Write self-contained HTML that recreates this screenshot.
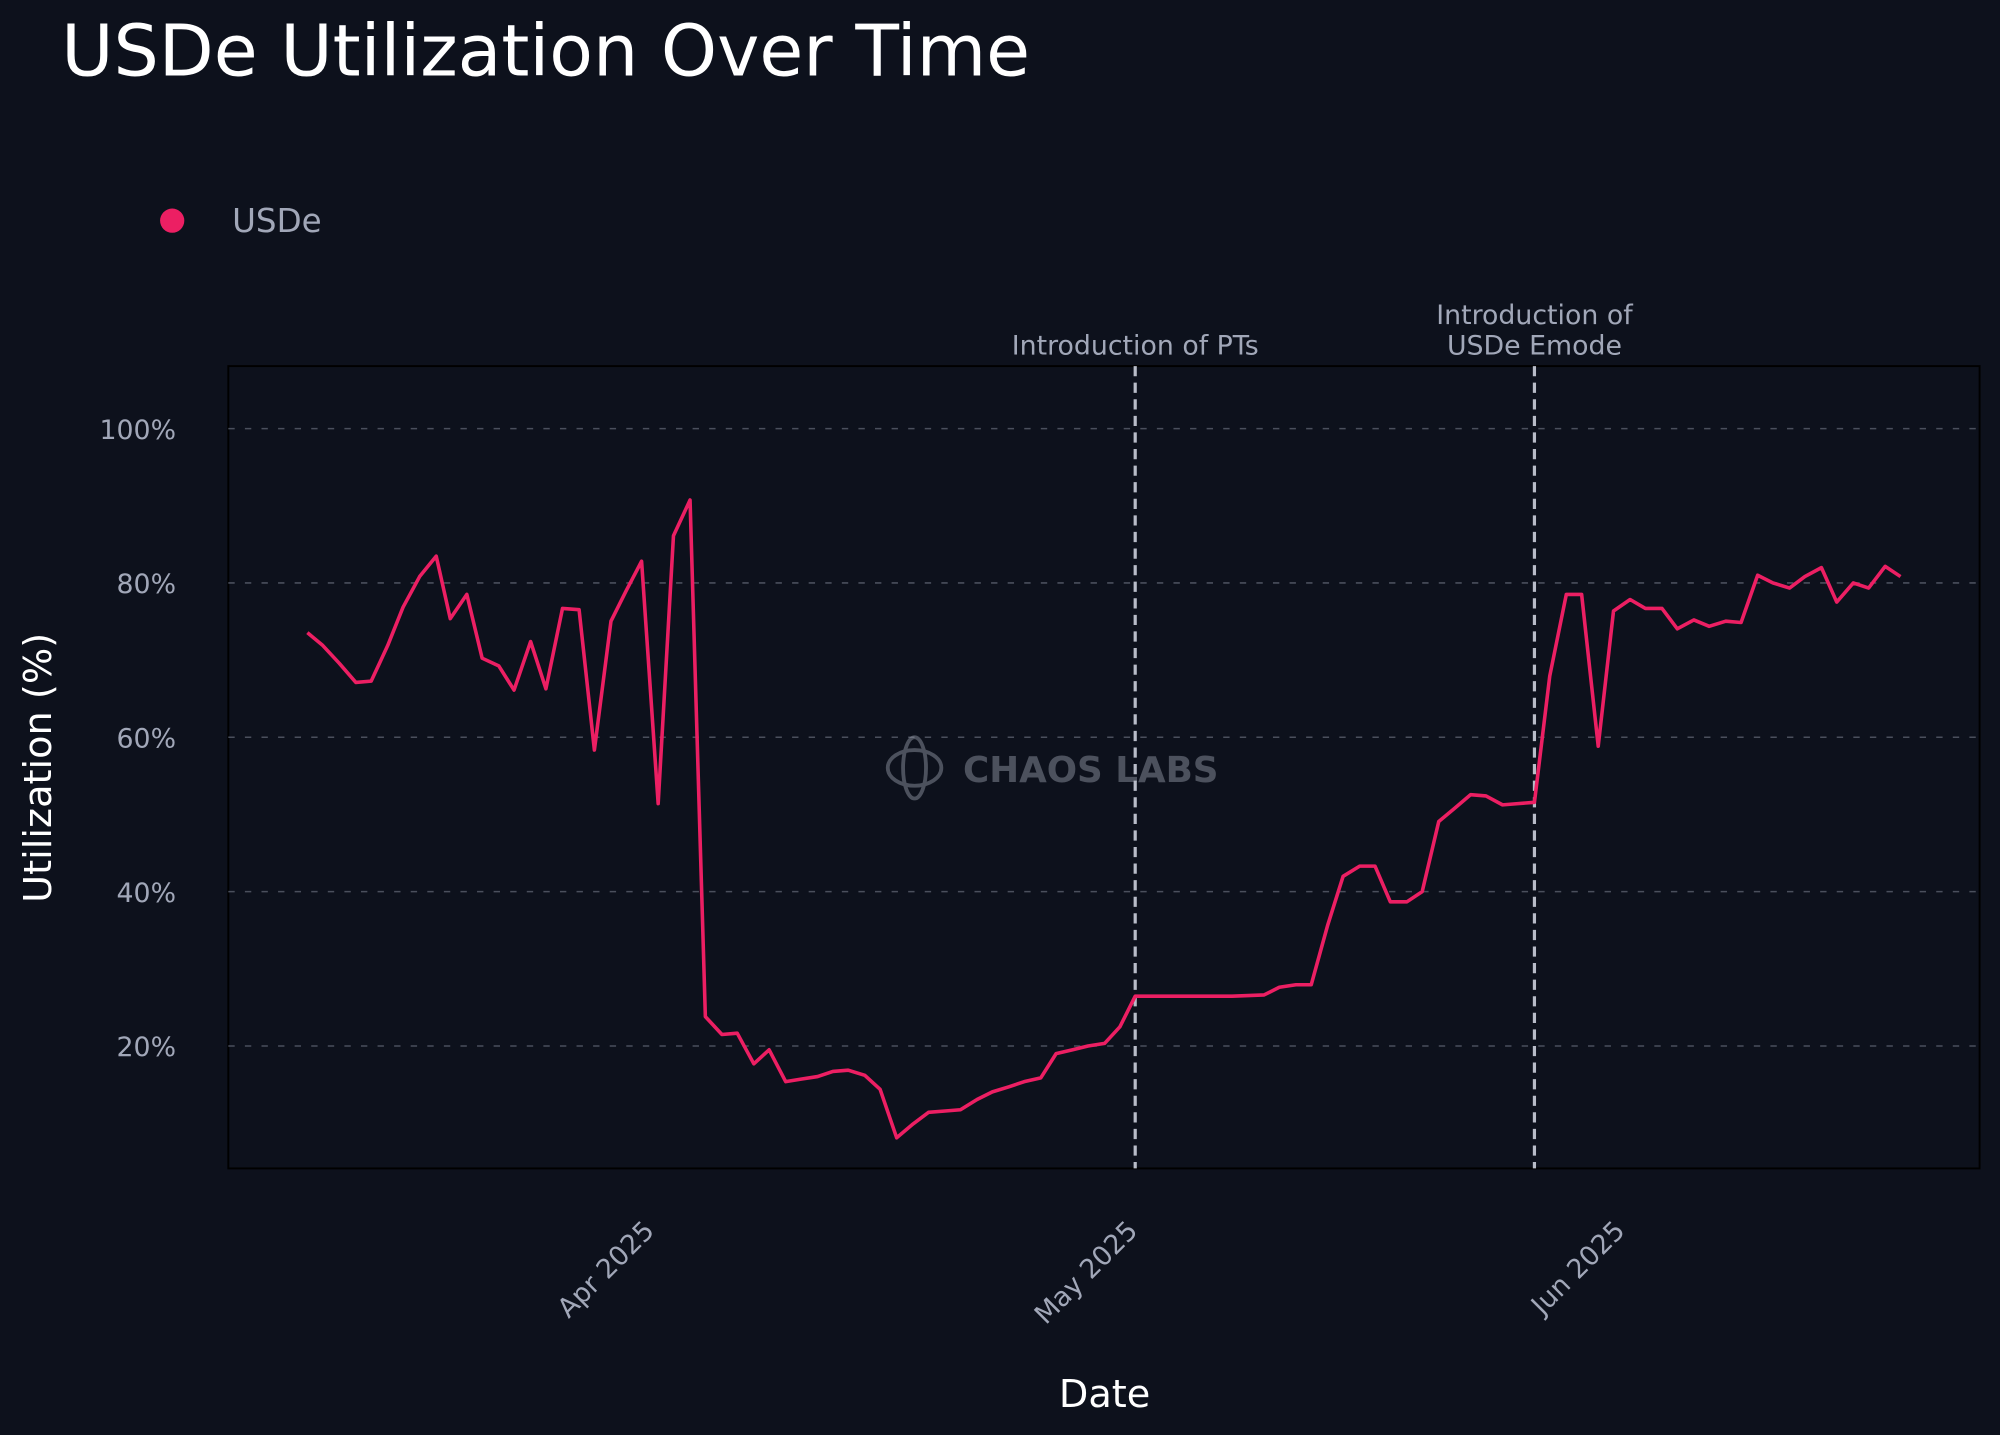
<!DOCTYPE html>
<html><head><meta charset="utf-8"><style>
html,body{margin:0;padding:0;background:#0d111c;}
svg{display:block;font-family:"DejaVu Sans","Liberation Sans",sans-serif;}
</style></head><body>
<svg width="2000" height="1435" viewBox="0 0 1568 1125" preserveAspectRatio="none">
<rect width="1568" height="1125" fill="#0d111c"/>
<text x="48" y="59" font-size="56" fill="#ffffff">USDe Utilization Over Time</text>
<circle cx="135" cy="173" r="9.5" fill="#ec1f63"/>
<text x="182" y="182" font-size="25.5" fill="#a1a7b8">USDe</text>
<rect x="179" y="287" width="1373" height="629" fill="#0d111c" stroke="#000" stroke-width="1.5"/>
<g stroke="#4a4f5c" stroke-width="1.2" stroke-dasharray="5,8">
<line x1="179" y1="336" x2="1552" y2="336"/>
<line x1="179" y1="457" x2="1552" y2="457"/>
<line x1="179" y1="578" x2="1552" y2="578"/>
<line x1="179" y1="699" x2="1552" y2="699"/>
<line x1="179" y1="820" x2="1552" y2="820"/>
</g>
<g font-size="21" fill="#a1a7b8" text-anchor="end">
<text x="138" y="344">100%</text>
<text x="138" y="465">80%</text>
<text x="138" y="586">60%</text>
<text x="138" y="707">40%</text>
<text x="138" y="828">20%</text>
</g>
<text transform="translate(40,602) rotate(-90)" font-size="30" fill="#ffffff" text-anchor="middle">Utilization (%)</text>
<text x="866" y="1103" font-size="30" fill="#ffffff" text-anchor="middle">Date</text>
<g font-size="21" fill="#a1a7b8" text-anchor="end">
<text transform="translate(514,966) rotate(-45)">Apr 2025</text>
<text transform="translate(893,966) rotate(-45)">May 2025</text>
<text transform="translate(1275,966) rotate(-45)">Jun 2025</text>
</g>
<g opacity="0.45" fill="none" stroke="#9aa0ad" stroke-width="3">
<ellipse cx="717" cy="602" rx="21" ry="14"/>
<ellipse cx="717" cy="602" rx="9" ry="24"/>
</g>
<text x="755" y="613" font-size="28" font-weight="bold" fill="#9aa0ad" opacity="0.45">CHAOS LABS</text>
<g stroke="#b8bcc8" stroke-width="2.5" stroke-dasharray="8,5">
<line x1="890" y1="287" x2="890" y2="916"/>
<line x1="1203" y1="287" x2="1203" y2="916"/>
</g>
<g font-size="21" fill="#a1a7b8" text-anchor="middle">
<text x="890" y="278">Introduction of PTs</text>
<text x="1203" y="254">Introduction of</text>
<text x="1203" y="278">USDe Emode</text>
</g>
<polyline fill="none" stroke="#ec1f63" stroke-width="2.8" stroke-linejoin="round" points="241,496 253,506 266,520 279,535 291,534 304,506 316,476 329,452 342,436 353,485 366,466 378,516 391,522 403,541 416,503 428,540 441,477 454,478 466,588 479,487 491,463 503,440 516,630 528,420 541,392 553,797 566,811 578,810 591,834 603,823 616,848 628,846 641,844 653,840 665,839 678,843 690,854 703,892 716,881 728,872 741,871 753,870 766,862 778,856 791,852 803,848 816,845 828,826 841,823 853,820 866,818 878,805 890,781 903,781 966,781 991,780 1003,774 1016,772 1028,772 1041,725 1053,687 1066,679 1078,679 1090,707 1103,707 1115,699 1128,644 1140,634 1153,623 1165,624 1178,631 1190,630 1203,629 1215,530 1228,466 1240,466 1253,585 1265,479 1278,470 1290,477 1303,477 1315,493 1328,486 1340,491 1353,487 1365,488 1378,451 1390,457 1403,461 1415,452 1428,445 1440,472 1453,457 1465,461 1478,444 1490,452"/>
</svg>
</body></html>
